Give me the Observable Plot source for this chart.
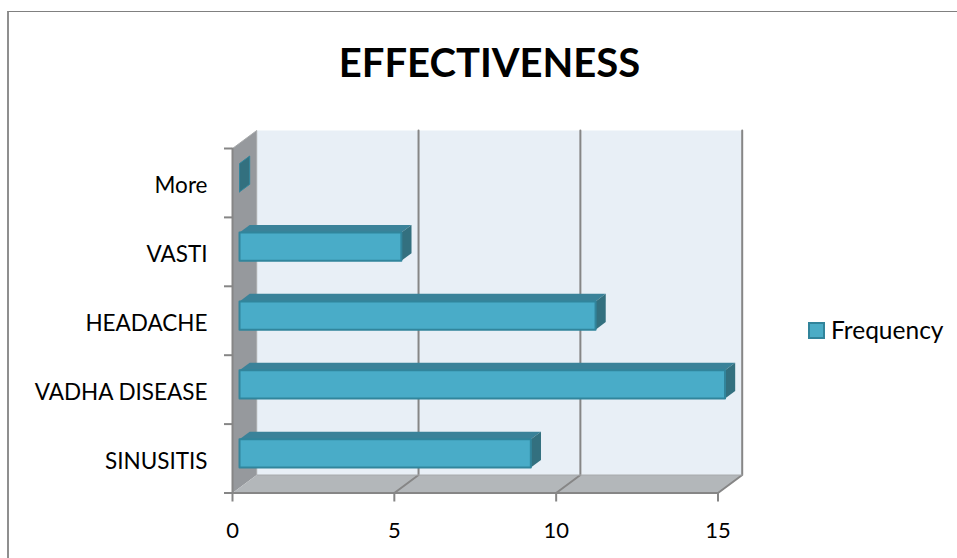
<!DOCTYPE html>
<html><head><meta charset="utf-8">
<script src="https://cdn.jsdelivr.net/npm/d3@7"></script>
<script src="https://cdn.jsdelivr.net/npm/@observablehq/plot@0.6"></script>
<style>
html,body{margin:0;padding:0;background:#fff}
#wrap{position:relative;width:957px;height:558px;overflow:hidden;font-family:Lato,sans-serif;color:#000}
#frame{position:absolute;left:7px;top:11px;width:960px;height:560px;border-left:2px solid #8f8f8f;border-top:1px solid #808080;box-sizing:border-box}
#title{position:absolute;left:0;width:979px;top:38px;text-align:center;font-weight:700;font-size:40px;line-height:48px}
#legend{position:absolute;left:808px;top:316px;display:flex;align-items:center;font-size:24.5px;line-height:28px}
#legend i{display:block;width:13px;height:13px;background:#4bacc6;border:2px solid #31849b;margin-right:6px}
svg{position:absolute;left:0;top:0;overflow:visible}
</style></head><body>
<div id="wrap">
<div id="frame"></div>
<div id="title">EFFECTIVENESS</div>
<div id="legend"><i></i><span>Frequency</span></div>
</div>
<script>
const categories = ["SINUSITIS","VADHA DISEASE","HEADACHE","VASTI","More"];
const frequency = [9,15,11,5,0];
const xTicks = [0,5,10,15];
const seriesName = "Frequency";

// oblique depth expressed in data units of the two scales
const depthX = 0.748, depthY = 0.261;
const P = (v,c,d=0)=>({x:v+d*depthX,y:c+d*depthY});
const poly = (pts,fill,stroke="none",strokeWidth=1)=>Plot.line([...pts,pts[0]],{x:"x",y:"y",fill,stroke,strokeWidth,curve:"linear"});
const seg = (pts,stroke,strokeWidth)=>Plot.line(pts,{x:"x",y:"y",stroke,strokeWidth,curve:"linear"});

const marks = [];
const n = categories.length, xMax = 15;
// back wall, left wall, floor
marks.push(poly([P(0,0,1),P(xMax,0,1),P(xMax,n,1),P(0,n,1)],"#e8eff6"));
marks.push(poly([P(0,0,0),P(0,0,1),P(0,n,1),P(0,n,0)],"#96999d"));
marks.push(poly([P(0,0,0),P(xMax,0,0),P(xMax,0,1),P(0,0,1)],"#b3b7ba"));
// gridlines on back wall + floor
for (const t of xTicks.slice(1)) {
  marks.push(seg([P(t,0,0),P(t,0,1),P(t,n,1)],"#868686",2));
}
marks.push(seg([P(0,n,0),P(0,n,1),P(0,0,1),P(xMax,0,1)],"#a9abad",1));
marks.push(seg([P(0,n,0),P(0,0,0),P(xMax,0,0)],"#868686",2));

// bars
const d0 = 0.29, d1 = 0.71, half = 0.205;
frequency.forEach((v,i)=>{
  const lo=i+0.5-half, hi=i+0.5+half;
  if (v>0) {
    marks.push(poly([P(0,hi,d0),P(v,hi,d0),P(v,hi,d1),P(0,hi,d1)],"#3a8299"));
    marks.push(poly([P(v,lo,d0),P(v,lo,d1),P(v,hi,d1),P(v,hi,d0)],"#33707f"));
    marks.push(poly([P(0,lo,d0),P(v,lo,d0),P(v,hi,d0),P(0,hi,d0)],"#49acc8","#31859c",2));
  } else {
    marks.push(poly([P(0,lo,d0),P(0,lo,d1),P(0,hi,d1),P(0,hi,d0)],"#33707f","#31859c",1));
  }
});

const chart = Plot.plot({
  width:957,height:558,
  marginLeft:232,marginRight:239.5,marginTop:148,marginBottom:65.5,
  style:{background:"transparent",fontFamily:"Lato,sans-serif",color:"#000"},
  x:{domain:[0,xMax],label:null},
  y:{domain:[0,n],label:null},
  marks:[
    ...marks,
    Plot.axisX({ticks:xTicks,tickSize:9,tickPadding:20,fontSize:22,label:null,stroke:"#868686",strokeWidth:2,color:"#000",fill:"#000"}),
    Plot.axisY({ticks:d3.range(0,n+1),tickSize:8,tickFormat:()=>"",label:null,stroke:"#868686",strokeWidth:2}),
    Plot.axisY({ticks:categories.map((c,i)=>i+0.5),tickSize:0,tickPadding:25,dy:3,tickFormat:v=>categories[Math.floor(v)],fontSize:22.5,label:null,fill:"#000"})
  ]
});
document.getElementById("wrap").prepend(chart);
document.querySelector("#legend span").textContent = seriesName;
</script>
</body></html>
